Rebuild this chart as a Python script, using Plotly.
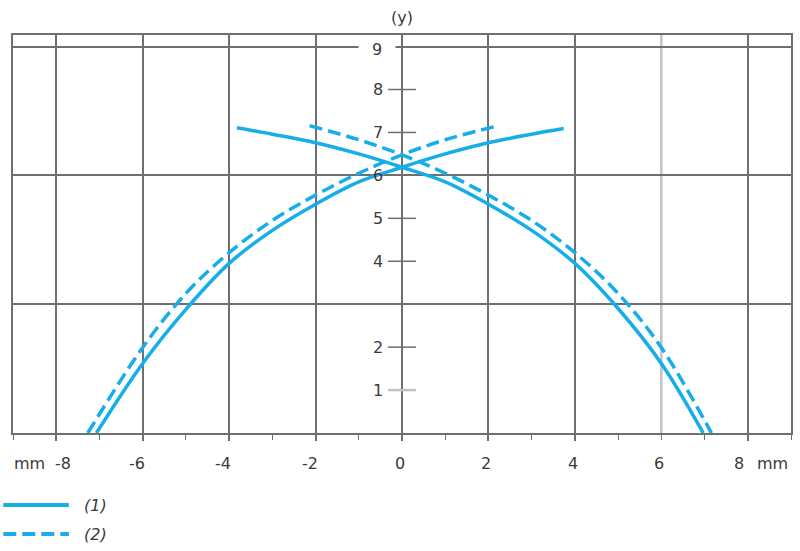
import plotly.graph_objects as go

# ---- data ----
series_names = ["(1)", "(2)"]

x_solid_a = [-7.07, -6.0, -5.0, -4.0, -3.0, -2.0, -1.0, 0.0, 1.0, 2.0, 3.0, 3.74]
y_solid_a = [0.0, 1.62, 2.88, 3.95, 4.72, 5.33, 5.85, 6.19, 6.50, 6.76, 6.96, 7.09]
x_solid_b = [-3.82, -3.0, -2.0, -1.0, 0.0, 1.0, 2.0, 3.0, 4.0, 5.0, 6.0, 6.97]
y_solid_b = [7.11, 6.96, 6.76, 6.50, 6.19, 5.85, 5.33, 4.72, 3.95, 2.90, 1.62, 0.0]

x_dash_a = [-7.27, -6.0, -5.0, -4.0, -3.0, -2.0, -1.0, 0.0, 1.0, 2.12]
y_dash_a = [0.0, 1.99, 3.25, 4.20, 4.95, 5.54, 6.05, 6.48, 6.83, 7.13]
x_dash_b = [-2.14, -1.0, 0.0, 1.0, 2.0, 3.0, 4.0, 5.0, 6.0, 7.16]
y_dash_b = [7.16, 6.83, 6.48, 6.05, 5.54, 4.95, 4.20, 3.25, 1.99, 0.0]

x_grid_vals = [-8, -6, -4, -2, 0, 2, 4, 8]        # dark grid lines
x_light_line = 6                                   # light grey grid line
x_label_vals = [-8, -6, -4, -2, 0, 2, 4, 6, 8]
x_label_text = ["-8", "-6", "-4", "-2", "0", "2", "4", "6", "8"]
x_unit = "mm"
y_unit = "(y)"
y_label_vals = [1, 2, 4, 5, 6, 7, 8, 9]
y_axis_ticks = [2, 4, 5, 7, 8]
y_axis_ticks_light = [1]

BLUE = "#16AEE8"
GRID = "#6f6f6f"
LIGHT = "#c2c2c2"
TEXT = "#3a3a3a"
FONT = "DejaVu Sans"
FS = 16

fig = go.Figure()

# light vertical grid line at x = 6
fig.add_shape(type="line", xref="x", yref="paper", x0=x_light_line, x1=x_light_line,
              y0=0, y1=1, line=dict(color=LIGHT, width=2.5), layer="below")

# axis ticks crossing the central axis
fig.add_trace(go.Scatter(x=[0] * len(y_axis_ticks), y=y_axis_ticks, mode="markers",
                         marker=dict(symbol="line-ew", size=20,
                                     line=dict(color=GRID, width=1.5)),
                         showlegend=False, hoverinfo="skip"))
fig.add_trace(go.Scatter(x=[0] * len(y_axis_ticks_light), y=y_axis_ticks_light, mode="markers",
                         marker=dict(symbol="line-ew", size=20,
                                     line=dict(color=LIGHT, width=2.5)),
                         showlegend=False, hoverinfo="skip"))

line_solid = dict(color=BLUE, width=3.5, shape="spline", smoothing=1.0)
line_dash = dict(color=BLUE, width=3.5, shape="spline", smoothing=1.0, dash="13px,6px")

for xs, ys in [(x_solid_a, y_solid_a), (x_solid_b, y_solid_b)]:
    fig.add_trace(go.Scatter(x=xs, y=ys, mode="lines", line=line_solid,
                             name=series_names[0], showlegend=False))
for xs, ys in [(x_dash_a, y_dash_a), (x_dash_b, y_dash_b)]:
    fig.add_trace(go.Scatter(x=xs, y=ys, mode="lines", line=line_dash,
                             name=series_names[1], showlegend=False))

fnt = dict(family=FONT, size=FS, color=TEXT)
annotations = []
# y labels next to the central axis
for v in y_label_vals:
    a = dict(x=0, y=v, xref="x", yref="y", text=str(v), showarrow=False,
             xanchor="right", xshift=-17, font=fnt)
    if v == 9:  # "9" sits in a white gap of the top grid line
        a.update(xshift=-6, width=34, align="center", bgcolor="white", yshift=-3)
    annotations.append(a)
annotations.append(dict(x=0, y=1, xref="x", yref="paper", yanchor="bottom", yshift=6,
                        text=y_unit, showarrow=False, font=fnt))

# x labels under the axis (minus signs hang to the left as in the reference)
for v, t in zip(x_label_vals, x_label_text):
    if abs(v) == 8:
        shift = 7 if v < 0 else -9
    else:
        shift = -6 if v < 0 else -2
    annotations.append(dict(x=v, y=0, xref="x", yref="paper", yanchor="middle",
                            yshift=-30, xshift=shift, text=t, showarrow=False, font=fnt))
annotations.append(dict(x=-0.001, y=0, xref="paper", yref="paper", xanchor="left",
                        yanchor="middle", yshift=-30, text=x_unit, showarrow=False, font=fnt))
annotations.append(dict(x=0.954, y=0, xref="paper", yref="paper", xanchor="left",
                        yanchor="middle", yshift=-30, text=x_unit, showarrow=False, font=fnt))

# legend drawn below the plot
leg_y = [-0.181, -0.254]
leg_dash = [None, "13px,6px"]
for i, name in enumerate(series_names):
    ln = dict(color=BLUE, width=4)
    if leg_dash[i]:
        ln["dash"] = leg_dash[i]
    fig.add_shape(type="line", xref="paper", yref="paper", x0=-0.0125, x1=0.0718,
                  y0=leg_y[i], y1=leg_y[i], line=ln)
    annotations.append(dict(x=0.089, y=leg_y[i], xref="paper", yref="paper",
                            xanchor="left", yanchor="middle", text=f"<i>{name}</i>",
                            showarrow=False, font=fnt))

fig.update_layout(
    width=800, height=551,
    margin=dict(l=13, r=7, t=35, b=118),
    paper_bgcolor="white", plot_bgcolor="white",
    showlegend=False,
    annotations=annotations,
    font=fnt,
)
fig.update_xaxes(range=[-9, 9], tickmode="array", tickvals=x_grid_vals,
                 showticklabels=False,
                 showgrid=True, gridcolor=GRID, gridwidth=1.5,
                 zeroline=True, zerolinecolor=GRID, zerolinewidth=1.5,
                 showline=True, linecolor=GRID, linewidth=1.5, mirror=True,
                 ticks="outside", ticklen=6, tickcolor=GRID, tickwidth=1.5,
                 minor=dict(dtick=1, tick0=0, ticks="outside", ticklen=5,
                            tickcolor=GRID, tickwidth=1.2, showgrid=False))
fig.update_yaxes(range=[0, 9.27], tickmode="array", tickvals=[0, 3, 6, 9],
                 showticklabels=False, showgrid=True, gridcolor=GRID, gridwidth=1.5,
                 zeroline=False, showline=True, linecolor=GRID, linewidth=1.5, mirror=True,
                 ticks="")

fig.write_html("out.html")
